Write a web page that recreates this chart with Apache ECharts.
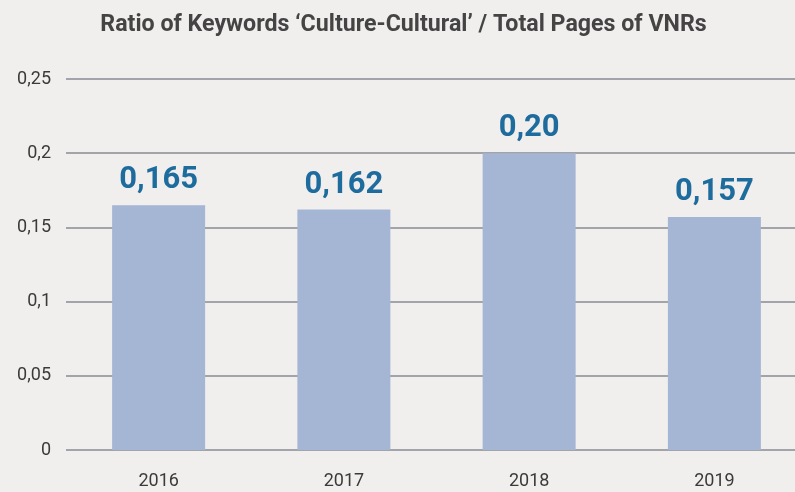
<!DOCTYPE html>
<html><head><meta charset="utf-8">
<script src="https://cdn.jsdelivr.net/npm/echarts@6/dist/echarts.min.js"></script>
<style>html,body{margin:0;padding:0;background:#f0efed;overflow:hidden;width:795px;height:492px;}#c{width:807px;height:492px;}</style>
</head><body><div id="c"></div>
<script>
const titleText = "Ratio of Keywords ‘Culture-Cultural’ / Total Pages of VNRs";
const categories = ["2016", "2017", "2018", "2019"];
const values = [0.165, 0.162, 0.20, 0.157];
const valueLabels = ["0,165", "0,162", "0,20", "0,157"];

const chart = echarts.init(document.getElementById('c'));
chart.setOption({
  backgroundColor: '#f0efed',
  animation: false,
  title: {
    text: titleText, left: 'center', top: 9,
    textStyle: { fontFamily: 'Roboto', fontWeight: 'bold', fontSize: 23.2, color: '#444444' }
  },
  grid: { left: 66, right: 0, top: 79, bottom: 42, containLabel: false },
  xAxis: {
    type: 'category', data: categories,
    axisLine: { show: false }, axisTick: { show: false },
    axisLabel: { fontFamily: 'Roboto', fontSize: 18, color: '#3a3a3a', margin: 22 }
  },
  yAxis: {
    type: 'value', min: 0, max: 0.25, interval: 0.05,
    axisLine: { show: false }, axisTick: { show: false },
    axisLabel: { fontFamily: 'Roboto', fontSize: 18, color: '#3a3a3a', margin: 15,
      formatter: v => String(+v.toFixed(2)).replace('.', ',') },
    splitLine: { lineStyle: { color: '#a2a4aa', width: 2 } }
  },
  series: [{
    type: 'bar', data: values, barWidth: 93,
    itemStyle: { color: '#a5b5d4' },
    label: {
      show: true, position: 'top', distance: 9,
      fontFamily: 'Roboto', fontWeight: 'bold', fontSize: 31, color: '#1e6c9e',
      formatter: p => valueLabels[p.dataIndex]
    }
  }]
});
</script></body></html>
